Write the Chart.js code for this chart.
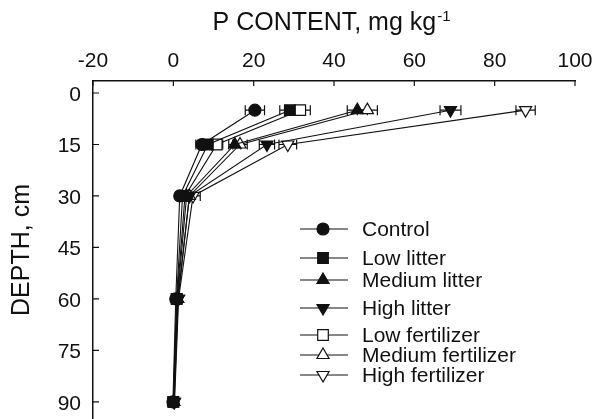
<!DOCTYPE html>
<html>
<head>
<meta charset="utf-8">
<script src="https://cdn.jsdelivr.net/npm/chart.js@4/dist/chart.umd.min.js"></script>
<style>
    body { margin: 0; background: #fff; }
    #wrap { width: 598px; height: 419px; position: relative; }
</style>
</head>
<body>
<div id="wrap"><canvas id="pChart"></canvas></div>
<script>
// Depths (cm) and P content (mg/kg) per treatment, with +/- error
const depths = [5, 15, 30, 60, 90];
const xTicks = [-20, 0, 20, 40, 60, 80, 100];
const yTicks = [0, 15, 30, 45, 60, 75, 90];

const control      = [20.3, 7.1, 1.6, 0.6, -0.1];
const controlErr   = [2.4, 1.5, 1, 0.5, 0.5];
const lowLitter    = [29, 8.6, 2.3, 0.8, 0];
const lowLitterErr = [2.5, 1.5, 1, 0.5, 0.5];
const medLitter    = [45.8, 15.3, 3.3, 1, 0.1];
const medLitterErr = [2.5, 1.5, 1, 0.5, 0.5];
const highLitter   = [69, 23.3, 4, 1.2, 0.2];
const highLitterErr = [2.6, 1.9, 1, 0.5, 0.5];
const lowFert      = [31.6, 10.8, 2.9, 0.9, 0];
const lowFertErr   = [2.5, 1.5, 1, 0.5, 0.5];
const medFert      = [48.3, 16.6, 4, 1.1, 0.1];
const medFertErr   = [2.5, 1.8, 1, 0.5, 0.5];
const highFert     = [87.7, 28.5, 4.9, 1.3, 0.3];
const highFertErr  = [2.4, 2.2, 1.8, 0.5, 0.5];

const FONT = "'Liberation Sans', Arial, sans-serif";

function makeSet(label, vals, errs, style, filled, rotation, radius) {
    return {
        label: label,
        data: depths.map((d, i) => ({ x: vals[i], y: d })),
        errors: errs,
        showLine: true,
        borderColor: '#111',
        borderWidth: 1.1,
        pointStyle: style,
        pointRotation: rotation,
        pointRadius: radius,
        pointBackgroundColor: filled ? '#111' : '#fff',
        pointBorderColor: '#111',
        pointBorderWidth: 1.2
    };
}

// horizontal error bars, drawn with the chart's own scales
const errorBars = {
    id: 'errorBars',
    beforeDatasetsDraw(chart) {
        const ctx = chart.ctx;
        const xs = chart.scales.x, ys = chart.scales.y;
        ctx.save();
        ctx.strokeStyle = '#111';
        ctx.lineWidth = 1.2;
        chart.data.datasets.forEach(ds => {
            ds.data.forEach((p, i) => {
                const e = ds.errors[i];
                const x1 = xs.getPixelForValue(p.x - e);
                const x2 = xs.getPixelForValue(p.x + e);
                const y = ys.getPixelForValue(p.y);
                ctx.beginPath();
                ctx.moveTo(x1, y); ctx.lineTo(x2, y);
                ctx.moveTo(x1, y - 5); ctx.lineTo(x1, y + 5);
                ctx.moveTo(x2, y - 5); ctx.lineTo(x2, y + 5);
                ctx.stroke();
            });
        });
        ctx.restore();
    }
};

// inward tick marks, title with superscript and the legend box
const decorations = {
    id: 'decorations',
    afterDraw(chart) {
        const ctx = chart.ctx;
        const xs = chart.scales.x, ys = chart.scales.y;
        const area = chart.chartArea;
        ctx.save();
        ctx.strokeStyle = '#111';
        ctx.lineWidth = 1.2;
        ctx.beginPath();
        xTicks.forEach(v => {
            const px = xs.getPixelForValue(v);
            ctx.moveTo(px, area.top); ctx.lineTo(px, area.top + 5);
        });
        yTicks.forEach(v => {
            const py = ys.getPixelForValue(v);
            ctx.moveTo(area.left, py); ctx.lineTo(area.left + 6, py);
        });
        ctx.stroke();

        // title
        ctx.fillStyle = '#111';
        ctx.textBaseline = 'alphabetic';
        const main = 'P CONTENT, mg kg';
        ctx.font = '15px ' + FONT;
        const supW = ctx.measureText('-1').width;
        ctx.font = '25px ' + FONT;
        const mainW = ctx.measureText(main).width;
        const startX = 331 - (mainW + supW) / 2;
        ctx.textAlign = 'left';
        ctx.fillText(main, startX, 30);
        ctx.font = '15px ' + FONT;
        ctx.fillText('-1', startX + mainW + 1, 21);

        // legend
        const rows = [229, 258, 280, 308, 335, 355, 375];
        ctx.font = '21px ' + FONT;
        ctx.textBaseline = 'middle';
        chart.data.datasets.forEach((ds, i) => {
            const y = rows[i];
            ctx.strokeStyle = '#111';
            ctx.lineWidth = 1.1;
            ctx.beginPath();
            ctx.moveTo(300, y); ctx.lineTo(348, y);
            ctx.stroke();
            ctx.fillStyle = ds.pointBackgroundColor;
            ctx.strokeStyle = '#111';
            ctx.lineWidth = 1.2;
            Chart.helpers.drawPoint(ctx, {
                pointStyle: ds.pointStyle,
                rotation: ds.pointRotation,
                radius: ds.pointRadius,
                borderWidth: 1.2
            }, 323, y);
            ctx.fillStyle = '#111';
            ctx.fillText(ds.label, 362, y + 1);
        });
        ctx.restore();
    }
};

document.addEventListener('DOMContentLoaded', () => {
    const ctx = document.getElementById('pChart').getContext('2d');

    new Chart(ctx, {
        type: 'scatter',
        data: {
            datasets: [
                makeSet('Control', control, controlErr, 'circle', true, 0, 6),
                makeSet('Low litter', lowLitter, lowLitterErr, 'rect', true, 0, 7.5),
                makeSet('Medium litter', medLitter, medLitterErr, 'triangle', true, 0, 7),
                makeSet('High litter', highLitter, highLitterErr, 'triangle', true, 180, 7),
                makeSet('Low fertilizer', lowFert, lowFertErr, 'rect', false, 0, 7.5),
                makeSet('Medium fertilizer', medFert, medFertErr, 'triangle', false, 0, 7),
                makeSet('High fertilizer', highFert, highFertErr, 'triangle', false, 180, 7)
            ]
        },
        options: {
            responsive: true,
            maintainAspectRatio: false,
            animation: false,
            layout: { autoPadding: false, padding: { left: 0, right: 23, top: 0, bottom: 0 } },
            plugins: {
                legend: { display: false },
                tooltip: { enabled: false }
            },
            scales: {
                x: {
                    type: 'linear',
                    position: 'top',
                    min: -20,
                    max: 100,
                    afterBuildTicks: s => { s.ticks = xTicks.map(v => ({ value: v })); },
                    afterFit: s => { s.height = 81; s.paddingLeft = 0; s.paddingRight = 0; },
                    grid: { drawOnChartArea: false, drawTicks: false },
                    border: { display: true, color: '#111', width: 1.5 },
                    ticks: { color: '#111', padding: 7, font: { family: FONT, size: 21 } }
                },
                y: {
                    type: 'linear',
                    reverse: true,
                    min: -3.5,
                    max: 95,
                    afterBuildTicks: s => { s.ticks = yTicks.map(v => ({ value: v })); },
                    afterFit: s => { s.width = 93; s.paddingTop = 0; s.paddingBottom = 0; },
                    grid: { drawOnChartArea: false, drawTicks: false },
                    border: { display: true, color: '#111', width: 1.5 },
                    ticks: { color: '#111', padding: 12, labelOffset: 2, font: { family: FONT, size: 21 } },
                    title: {
                        display: true,
                        text: 'DEPTH, cm',
                        color: '#111',
                        font: { family: FONT, size: 25 },
                        padding: { top: 7, bottom: 0 }
                    }
                }
            }
        },
        plugins: [errorBars, decorations]
    });
});
</script>
</body>
</html>
